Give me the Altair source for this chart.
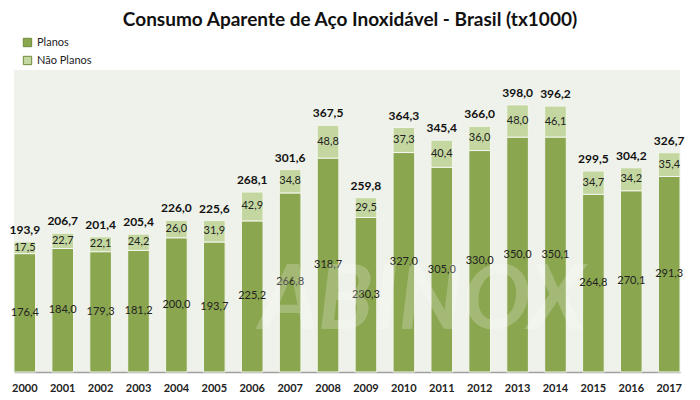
import altair as alt
import pandas as pd

years = [str(y) for y in range(2000, 2018)]
planos = [176.4, 184.0, 179.3, 181.2, 200.0, 193.7, 225.2, 266.8, 318.7,
          230.3, 327.0, 305.0, 330.0, 350.0, 350.1, 264.8, 270.1, 291.3]
nao_planos = [17.5, 22.7, 22.1, 24.2, 26.0, 31.9, 42.9, 34.8, 48.8,
              29.5, 37.3, 40.4, 36.0, 48.0, 46.1, 34.7, 34.2, 35.4]
totais = [193.9, 206.7, 201.4, 205.4, 226.0, 225.6, 268.1, 301.6, 367.5,
          259.8, 364.3, 345.4, 366.0, 398.0, 396.2, 299.5, 304.2, 326.7]
series = ["Planos", "Não Planos"]
colors = ["#8AA64F", "#C4D7A0"]
title_text = "Consumo Aparente de Aço Inoxidável - Brasil  (tx1000)"


def fmt(v):
    return f"{v:.1f}".replace(".", ",")


rows = []
for i, a in enumerate(years):
    rows.append({"ano": a, "tipo": "Planos", "ord": 0, "valor": planos[i],
                 "mid": planos[i] / 2, "label": fmt(planos[i])})
    rows.append({"ano": a, "tipo": "Não Planos", "ord": 1, "valor": nao_planos[i],
                 "mid": planos[i] + nao_planos[i] / 2, "label": fmt(nao_planos[i])})
long_df = pd.DataFrame(rows)
tot_df = pd.DataFrame({"ano": years, "total": totais, "label": [fmt(v) for v in totais]})

FONT = "Lato"
W = 666
x_enc = alt.X("ano:N", sort=years,
              scale=alt.Scale(paddingInner=0.43, paddingOuter=0.0),
              axis=alt.Axis(title=None, labelAngle=0, ticks=False, labelFontWeight="bold",
                            labelFontSize=11, labelColor="#222", labelPadding=10,
                            domainColor="#A0A0A0", domainWidth=1.5, labelFont=FONT))
y_scale = alt.Scale(domain=[0, 450])

bars = alt.Chart(long_df).mark_bar(stroke="#F3F6EE", strokeWidth=1).encode(
    x=x_enc,
    y=alt.Y("valor:Q", stack="zero", scale=y_scale, axis=None),
    color=alt.Color("tipo:N", sort=series,
                    scale=alt.Scale(domain=series, range=colors),
                    legend=alt.Legend(title=None, orient="none", legendX=8, legendY=-33,
                                      symbolType="square", symbolSize=70,
                                      symbolStrokeColor="#6F8A3A", symbolStrokeWidth=1,
                                      labelFont=FONT, labelFontSize=11, labelColor="#222",
                                      rowPadding=5)),
    order=alt.Order("ord:Q"),
)

seg_labels = alt.Chart(long_df).mark_text(fontSize=11, color="#222", font=FONT).encode(
    x=alt.X("ano:N", sort=years),
    y=alt.Y("mid:Q", scale=y_scale),
    text="label:N",
)

tot_labels = alt.Chart(tot_df).mark_text(fontSize=12, fontWeight="bold", color="#111",
                                         font=FONT, dy=-12).encode(
    x=alt.X("ano:N", sort=years),
    y=alt.Y("total:Q", scale=y_scale),
    text="label:N",
)

wm = alt.Chart(pd.DataFrame({"t": ["ABINOX"]})).mark_text(
    fontSize=90, fontWeight="bold", fontStyle="italic", color="white", opacity=0.22,
    font=FONT).encode(x=alt.value(408), y=alt.value(232), text="t:N")

title = alt.Chart(pd.DataFrame({"t": [title_text]})).mark_text(
    fontSize=19, fontWeight="bold", font=FONT, color="#111", baseline="alphabetic").encode(
    x=alt.value(336), y=alt.value(-44), text="t:N")

chart = alt.layer(bars, seg_labels, tot_labels, wm, title).properties(
    width=W, height=302,
    autosize=alt.AutoSizeParams(type="none"),
    padding={"left": 6, "top": 62, "right": 12, "bottom": 26},
).configure_view(fill="#EFF2EA", stroke=None)

chart.save("out.html", embed_options={"renderer": "svg", "actions": False})
